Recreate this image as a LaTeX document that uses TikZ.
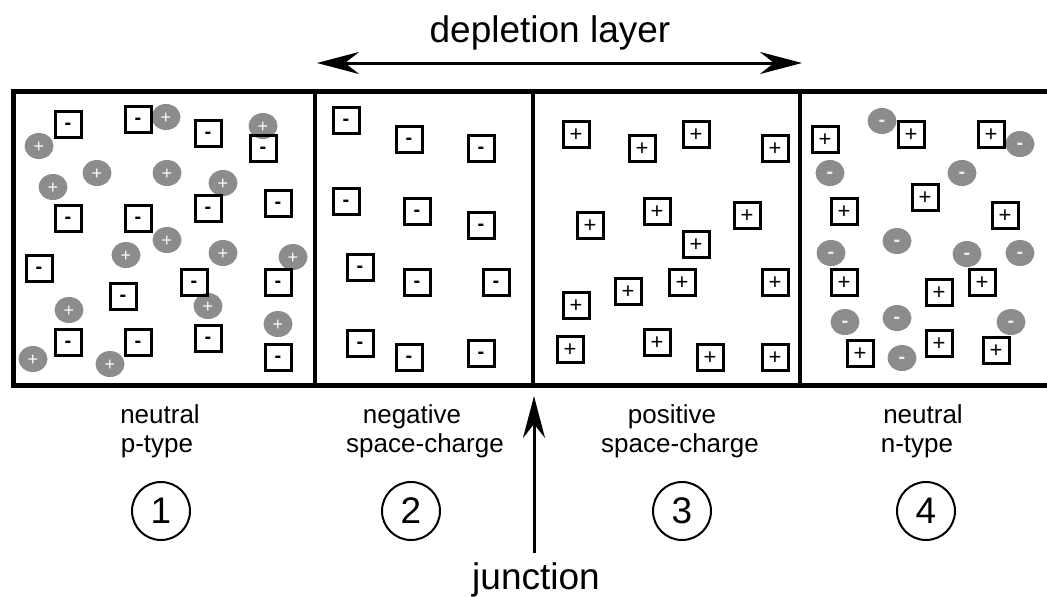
\documentclass[tikz,border=0pt]{standalone}
\usepackage{fontspec}
\setmainfont{Liberation Sans}
\usetikzlibrary{arrows.meta,shapes.geometric}
\definecolor{carriergray}{RGB}{140,140,140}

\begin{document}
\begin{tikzpicture}[
  x=1pt,y=-1pt,
  ion/.style={draw, line width=3pt, minimum size=26pt, inner sep=0pt},
  acceptor/.style={ion, font=\fontsize{20}{20}\selectfont\bfseries, text height=11pt, text depth=0pt},
  donor/.style={ion, font=\fontsize{22}{22}\selectfont, text height=15.4pt, text depth=0pt},
  carrier/.style={ellipse, fill=carriergray, minimum width=29pt, minimum height=26pt, inner sep=0pt, text=white},
  hole/.style={carrier, font=\fontsize{18}{18}\selectfont, text height=12.6pt, text depth=0pt},
  electron/.style={carrier, text=white!85!gray, font=\fontsize{20}{20}\selectfont\bfseries, text height=11pt, text depth=0pt},
  caption/.style={font=\fontsize{26}{29}\selectfont, anchor=base, inner sep=0pt},
  bigtext/.style={font=\fontsize{37}{40}\selectfont},
  regnum/.style={draw, circle, line width=2pt, minimum size=58pt, inner sep=0pt, bigtext},
  arrow/.style={-{Stealth[length=42pt,width=22pt,inset=14pt]}, line width=3pt},
  twoway/.style={{Stealth[length=42pt,width=22pt,inset=14pt]}-{Stealth[length=42pt,width=22pt,inset=14pt]}, line width=3pt}
]
\useasboundingbox (0,0) rectangle (1047,597);

% frame and region borders
\coordinate (tl) at (13.5,91.5);
\coordinate (br) at (1052,385);
\draw[line width=5pt] (tl) rectangle (br);
\foreach \x in {315,533,800}
  \draw[line width=4.5pt] (\x,91.5) -- (\x,385);

% region 1: holes and acceptor ions
\foreach \x/\y [count=\i] in {166/117,263/126,39/146,97/173,167/173,53/187,223/183,167/240,
    126/255,223/253,293/257,69/310,208/306,278/324,33/359,110/364}
  \node[hole] (h\i) at (\x,\y) {+};
\foreach \x/\y [count=\i] in {68/124,138/119,208/133,263/148,68/218,138/218,208/208,278/203,
    39/268,123/296,194/282,278/282,68/342,138/342,208/338,278/357}
  \node[acceptor] (a1-\i) at (\x,\y) {-};

% region 2: acceptor ions only
\foreach \x/\y [count=\i] in {346/120,409/139,481/148,346/201,417/211,481/225,
    360/267,417/282,496/282,360/343,409/357,481/353}
  \node[acceptor] (a2-\i) at (\x,\y) {-};

% region 3: donor ions only
\foreach \x/\y [count=\i] in {576/134,642/148,696/134,775/148,590/225,657/211,747/215,696/244,
    628/291,682/282,775/282,576/305,570/349,657/342,710/357,775/357}
  \node[donor] (d3-\i) at (\x,\y) {+};

% region 4: electrons and donor ions
\foreach \x/\y [count=\i] in {882/121,1020/144,830/173,962/173,897/241,831/253,
    967/254,1020/253,845/322,897/318,1011/322,902/358}
  \node[electron] (e\i) at (\x,\y) {-};
\foreach \x/\y [count=\i] in {825/139,911/134,991/134,925/197,844/211,1005/215,
    844/282,939/292,982/282,860/353,939/343,996/350}
  \node[donor] (d4-\i) at (\x,\y) {+};

% depletion layer
\coordinate (dl) at (317,63);
\coordinate (dr) at (802,63);
\draw[twoway] (dl) -- (dr);
\node[bigtext, anchor=base] (dep) at (550,42) {depletion layer};

% captions
\node[caption] (c1a) at (160,423) {neutral};
\node[caption] (c1b) at (157,452) {p-type};
\node[caption] (c2a) at (412,423) {negative};
\node[caption] (c2b) at (425,452) {space-charge};
\node[caption] (c3a) at (672,423) {positive};
\node[caption] (c3b) at (680,452) {space-charge};
\node[caption] (c4a) at (923,423) {neutral};
\node[caption] (c4b) at (917,452) {n-type};

\node[regnum] (n1) at (161,511) {1};
\node[regnum] (n2) at (411,511) {2};
\node[regnum] (n3) at (682,511) {3};
\node[regnum] (n4) at (926,511) {4};

% junction
\node[bigtext, anchor=base, inner sep=9pt] (junc) at (536,589) {junction};
\coordinate (jtip) at (534,396);
\draw[arrow] (junc.north -| jtip) -- (jtip);
\end{tikzpicture}
\end{document}
